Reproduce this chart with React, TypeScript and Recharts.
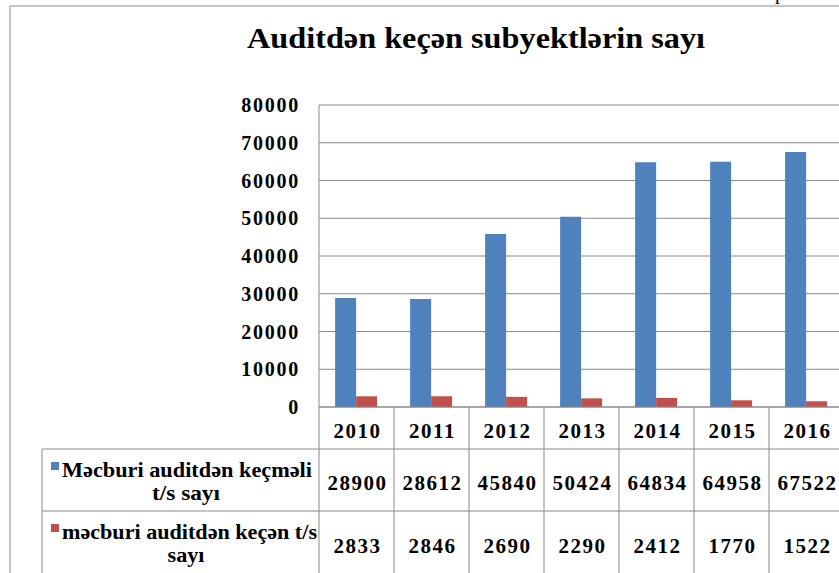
import { Bar, BarChart, CartesianGrid, XAxis, YAxis } from "recharts";

const years = ["2010", "2011", "2012", "2013", "2014", "2015", "2016"];
const mustAudit = [28900, 28612, 45840, 50424, 64834, 64958, 67522];
const audited = [2833, 2846, 2690, 2290, 2412, 1770, 1522];
const yTicks = [0, 10000, 20000, 30000, 40000, 50000, 60000, 70000, 80000];

const title = "Auditdən keçən subyektlərin sayı";
const legendLines = [
  ["Məcburi auditdən keçməli", "t/s sayı"],
  ["məcburi auditdən keçən t/s", "sayı"],
];

const BLUE = "#4F81BD";
const RED = "#C0504D";
const LINE = "#8a8a8a";
const FONT = '"Liberation Serif", "Times New Roman", Times, serif';

const data = years.map((year, i) => ({
  year,
  mustAudit: mustAudit[i],
  audited: audited[i],
}));

const rows = [mustAudit, audited];
const colors = [BLUE, RED];

const boldText = {
  fontFamily: FONT,
  fontWeight: 700,
  fontSize: 20,
};

function YTick({ x, y, payload }: any) {
  return (
    <text
      x={x + 2}
      y={y}
      textAnchor="end"
      dominantBaseline="central"
      fill="#000"
      style={{ ...boldText, letterSpacing: 1.75 }}
    >
      {payload.value}
    </text>
  );
}

function TableTick({ x, y, payload, index, width }: any) {
  const half = payload?.offset || width / years.length / 2;
  const left = x - half;
  const right = x + half;
  const last = index === years.length - 1;
  const cell = { ...boldText, fontSize: 21, letterSpacing: 1.5 };

  return (
    <g>
      <line x1={left} y1={y} x2={left} y2={y + 170} stroke={LINE} />
      {last && <line x1={right} y1={y} x2={right} y2={y + 170} stroke={LINE} />}
      <line x1={left} y1={y + 42} x2={right} y2={y + 42} stroke={LINE} />
      <line x1={left} y1={y + 104} x2={right} y2={y + 104} stroke={LINE} />
      <text x={x + 1} y={y + 31} textAnchor="middle" fill="#000" style={cell}>
        {payload.value}
      </text>
      <text x={x + 1} y={y + 83} textAnchor="middle" fill="#000" style={cell}>
        {rows[0][index]}
      </text>
      <text x={x + 1} y={y + 146} textAnchor="middle" fill="#000" style={cell}>
        {rows[1][index]}
      </text>

      {index === 0 && (
        <g>
          <line x1={42} y1={y + 42} x2={left} y2={y + 42} stroke={LINE} />
          <line x1={42} y1={y + 104} x2={left} y2={y + 104} stroke={LINE} />
          <line x1={42} y1={y + 42} x2={42} y2={y + 170} stroke={LINE} />
          {legendLines.map((lines, r) => {
            const top = y + 42 + r * 62;
            return (
              <g key={r}>
                <rect x={51} y={top + 13} width={8} height={8} fill={colors[r]} />
                <text
                  x={62}
                  y={top + 28}
                  fill="#000"
                  style={{ ...boldText, fontSize: 21 }}
                  textLength={r === 0 ? 250 : 255}
                  lengthAdjust="spacingAndGlyphs"
                >
                  {lines[0]}
                </text>
                <text
                  x={186}
                  y={top + 51}
                  textAnchor="middle"
                  fill="#000"
                  style={{ ...boldText, fontSize: 21 }}
                  textLength={r === 0 ? 68 : 37}
                  lengthAdjust="spacingAndGlyphs"
                >
                  {lines[1]}
                </text>
              </g>
            );
          })}
        </g>
      )}
    </g>
  );
}

export default function App() {
  return (
    <div
      style={{
        position: "absolute",
        left: 0,
        top: 0,
        width: 839,
        height: 573,
        overflow: "hidden",
        background: "#fff",
      }}
    >
      <svg
        width={839}
        height={573}
        style={{ position: "absolute", left: 0, top: 0 }}
      >
        <line x1={10} y1={6} x2={839} y2={6} stroke="#c4c4c4" strokeWidth={2} />
        <line x1={10} y1={6} x2={10} y2={573} stroke="#c4c4c4" strokeWidth={2} />
        <text x={775} y={-1} fill="#000" style={{ fontFamily: FONT, fontSize: 20 }}>
          p
        </text>
        <text
          x={476}
          y={48}
          textAnchor="middle"
          fill="#000"
          style={{ ...boldText, fontSize: 30 }}
          textLength={458}
          lengthAdjust="spacingAndGlyphs"
        >
          {title}
        </text>
      </svg>

      <div style={{ position: "absolute", left: 0, top: 0 }}>
        <BarChart
          width={850}
          height={573}
          data={data}
          margin={{ top: 105, right: 6, bottom: 0, left: 0 }}
          barCategoryGap="21.5%"
          barGap={0}
        >
          <CartesianGrid vertical={false} stroke={LINE} />
          <XAxis
            dataKey="year"
            height={166}
            interval={0}
            tickLine={false}
            tickSize={0}
            tickMargin={0}
            axisLine={{ stroke: LINE }}
            tick={<TableTick />}
          />
          <YAxis
            width={319}
            domain={[0, 80000]}
            ticks={yTicks}
            interval={0}
            tickLine={false}
            tickSize={0}
            tickMargin={21}
            axisLine={{ stroke: LINE }}
            tick={<YTick />}
          />
          <Bar dataKey="mustAudit" fill={BLUE} isAnimationActive={false} />
          <Bar dataKey="audited" fill={RED} isAnimationActive={false} />
        </BarChart>
      </div>
    </div>
  );
}
